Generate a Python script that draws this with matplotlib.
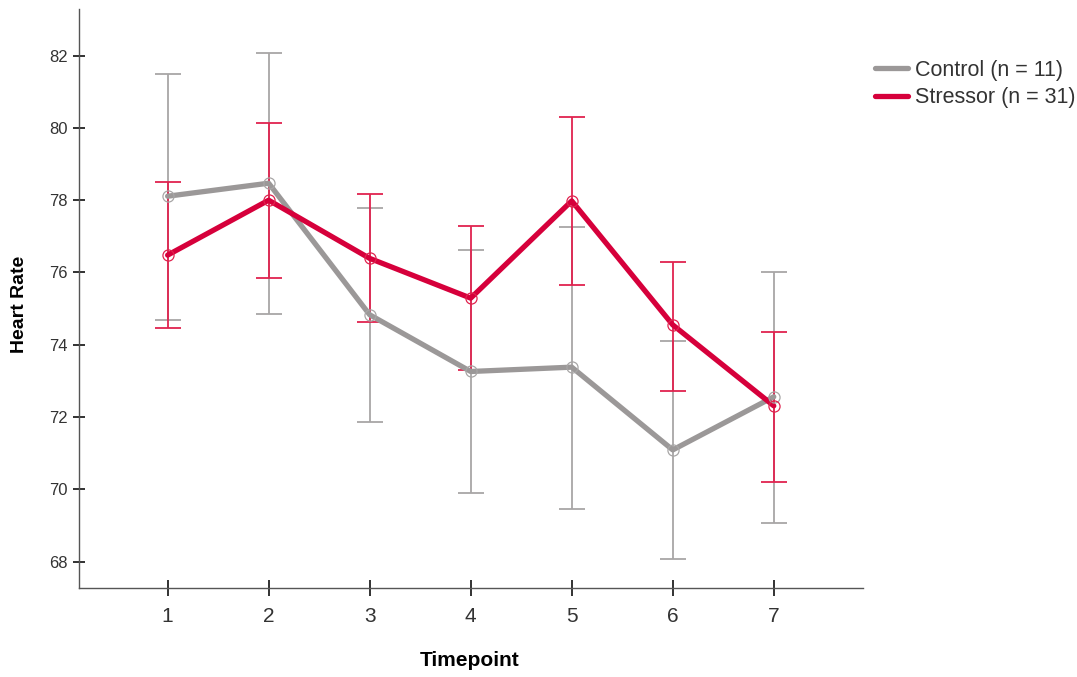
import matplotlib.pyplot as plt

# Heart rate means with error-bar limits per group
timepoints = [1, 2, 3, 4, 5, 6, 7]

control_mean = [78.11, 78.47, 74.83, 73.26, 73.38, 71.09, 72.56]
control_upper = [81.49, 82.07, 77.79, 76.62, 77.27, 74.11, 76.02]
control_lower = [74.69, 74.85, 71.85, 69.91, 69.45, 68.06, 69.06]

stressor_mean = [76.48, 78.00, 76.39, 75.29, 77.98, 74.55, 72.31]
stressor_upper = [78.51, 80.14, 78.16, 77.29, 80.30, 76.30, 74.36]
stressor_lower = [74.46, 75.86, 74.62, 73.30, 75.64, 72.71, 70.21]

y_ticks = [68, 70, 72, 74, 76, 78, 80, 82]

plt.rcParams['font.family'] = ['Liberation Sans', 'DejaVu Sans']

GREY = "#9b9898"
GREY_BAR = "#a8a6a6"
RED = "#d6003b"
RED_BAR = "#e0234f"


def draw_group(ax, mean, upper, lower, color, bar_color, label):
    err = [[m - lo for m, lo in zip(mean, lower)],
           [up - m for m, up in zip(mean, upper)]]
    ax.errorbar(timepoints, mean, yerr=err, fmt="none", ecolor=bar_color,
                elinewidth=1.3, capsize=9.5, capthick=1.3, zorder=2)
    ax.plot(timepoints, mean, color=color, linewidth=3.8, label=label,
            solid_capstyle="round", solid_joinstyle="round", zorder=3)
    ax.plot(timepoints, mean, linestyle="none", marker="o", markersize=8,
            markerfacecolor="none", markeredgecolor=bar_color,
            markeredgewidth=0.9, zorder=4)


fig = plt.figure(figsize=(10.77, 6.77), dpi=100)
ax = fig.add_axes([0.0731, 0.1315, 0.7279, 0.8552])

draw_group(ax, control_mean, control_upper, control_lower, GREY, GREY_BAR,
           "Control (n = 11)")
draw_group(ax, stressor_mean, stressor_upper, stressor_lower, RED, RED_BAR,
           "Stressor (n = 31)")

ax.set_xlim(0.12, 7.88)
ax.set_ylim(67.27, 83.29)
ax.set_xticks(timepoints)
ax.set_yticks(y_ticks)

for side in ["top", "right"]:
    ax.spines[side].set_visible(False)
for side in ["left", "bottom"]:
    ax.spines[side].set_color("#555555")
    ax.spines[side].set_linewidth(1.0)

ax.tick_params(axis="x", direction="inout", length=12, width=1.3,
               color="#222222", labelsize=15, labelcolor="#333333", pad=8)
ax.tick_params(axis="y", direction="inout", length=8, width=1.3,
               color="#222222", labelsize=12, labelcolor="#333333", pad=4)

ax.set_xlabel("Timepoint", fontsize=15, fontweight="bold", va="center")
ax.set_ylabel("Heart Rate", fontsize=14, fontweight="bold", va="center")
ax.xaxis.set_label_coords(0.498, -0.126)
ax.yaxis.set_label_coords(-0.0755, 0.489)

leg = fig.legend(loc="center left", bbox_to_anchor=(875 / 1077, 1 - 84 / 677),
                 frameon=False, fontsize=15.5, handlelength=1.55,
                 handletextpad=0.3, labelspacing=0.32, borderpad=0,
                 borderaxespad=0)
for t in leg.get_texts():
    t.set_color("#333333")

fig.savefig("out.png", dpi=100)
